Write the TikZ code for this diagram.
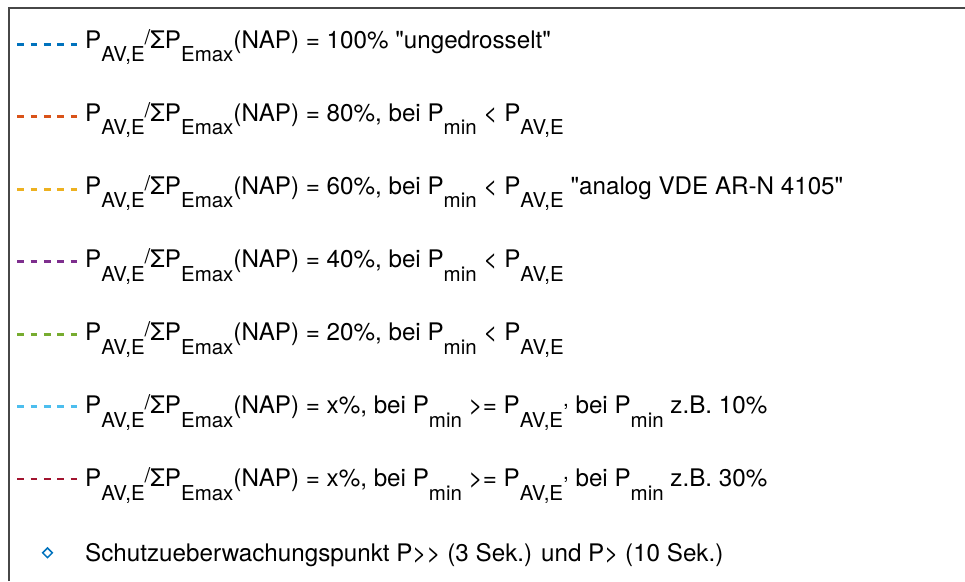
\documentclass[tikz,border=0pt]{standalone}
\usepackage{fontspec}
\usetikzlibrary{shapes.geometric}
\newfontfamily\legfont{TeX Gyre Heros}

\definecolor{plotA}{rgb}{0,0.447,0.741}
\definecolor{plotB}{rgb}{0.85,0.325,0.098}
\definecolor{plotC}{rgb}{0.929,0.694,0.125}
\definecolor{plotD}{rgb}{0.494,0.184,0.556}
\definecolor{plotE}{rgb}{0.466,0.674,0.188}
\definecolor{plotF}{rgb}{0.301,0.745,0.933}
\definecolor{plotG}{rgb}{0.635,0.078,0.184}

\newcommand{\subtx}[1]{\raisebox{-13.5pt}{\fontsize{20.5}{20.5}\selectfont #1}}
\newcommand{\suptx}[2][4pt]{\raisebox{#1}{\fontsize{20.5}{20.5}\selectfont #2}}
\newcommand{\napratio}{P\subtx{AV,E}\suptx{/}ΣP\subtx{Emax}(NAP)}

\tikzset{
	legline/.style={line width=2.8pt, dash pattern=on 6.7pt off 6.6pt},
	entry/.style={anchor=base west, inner sep=0pt, font=\legfont\fontsize{24.2}{28}\selectfont},
	frame/.style={draw=black!72, line width=1.5pt},
	diamark/.style={diamond, draw=plotA, line width=1.5pt, minimum width=10.2pt, minimum height=10.2pt, inner sep=0pt}
}

\begin{document}
\begin{tikzpicture}[x=1pt, y=-1pt]
			\useasboundingbox (0,0) rectangle (965,581);
			\draw[frame] (9,581) -- (9,8) -- (965,8);
			\draw[legline, plotA] (17.3,44.3)  -- (77.7,44.3);
			\node[entry] (e1) at (85,48.3)  {\napratio{} = 100\% "ungedrosselt"};
			\draw[legline, plotB] (17.3,116.8) -- (77.7,116.8);
			\node[entry] (e2) at (85,121.4) {\napratio{} = 80\%, bei P\subtx{min} < P\subtx{AV,E}};
			\draw[legline, plotC] (17.3,189.2) -- (77.7,189.2);
			\node[entry] (e3) at (85,194.4) {\napratio{} = 60\%, bei P\subtx{min} < P\subtx{AV,E} "analog VDE AR-N 4105"};
			\draw[legline, plotD] (17.3,261.7) -- (77.7,261.7);
			\node[entry] (e4) at (85,267.5) {\napratio{} = 40\%, bei P\subtx{min} < P\subtx{AV,E}};
			\draw[legline, plotE] (17.3,334.1) -- (77.7,334.1);
			\node[entry] (e5) at (85,340.6) {\napratio{} = 20\%, bei P\subtx{min} < P\subtx{AV,E}};
			\draw[legline, plotF] (17.3,406.6) -- (77.7,406.6);
			\node[entry] (e6) at (85,413.7) {\napratio{} = x\%, bei P\subtx{min} >= P\subtx{AV,E}\suptx[7pt]{,} bei P\subtx{min} z.B. 10\%};
			\draw[legline, plotG] (17.3,479.0) -- (77.7,479.0);
			\node[entry] (e7) at (85,486.7) {\napratio{} = x\%, bei P\subtx{min} >= P\subtx{AV,E}\suptx[7pt]{,} bei P\subtx{min} z.B. 30\%};
			\node[diamark] (m8) at (47.5,552.8) {};
			\node[entry] (e8) at (85,561.5) {Schutzueberwachungspunkt P>> (3 Sek.) und P> (10 Sek.)};
		\end{tikzpicture}
\end{document}
